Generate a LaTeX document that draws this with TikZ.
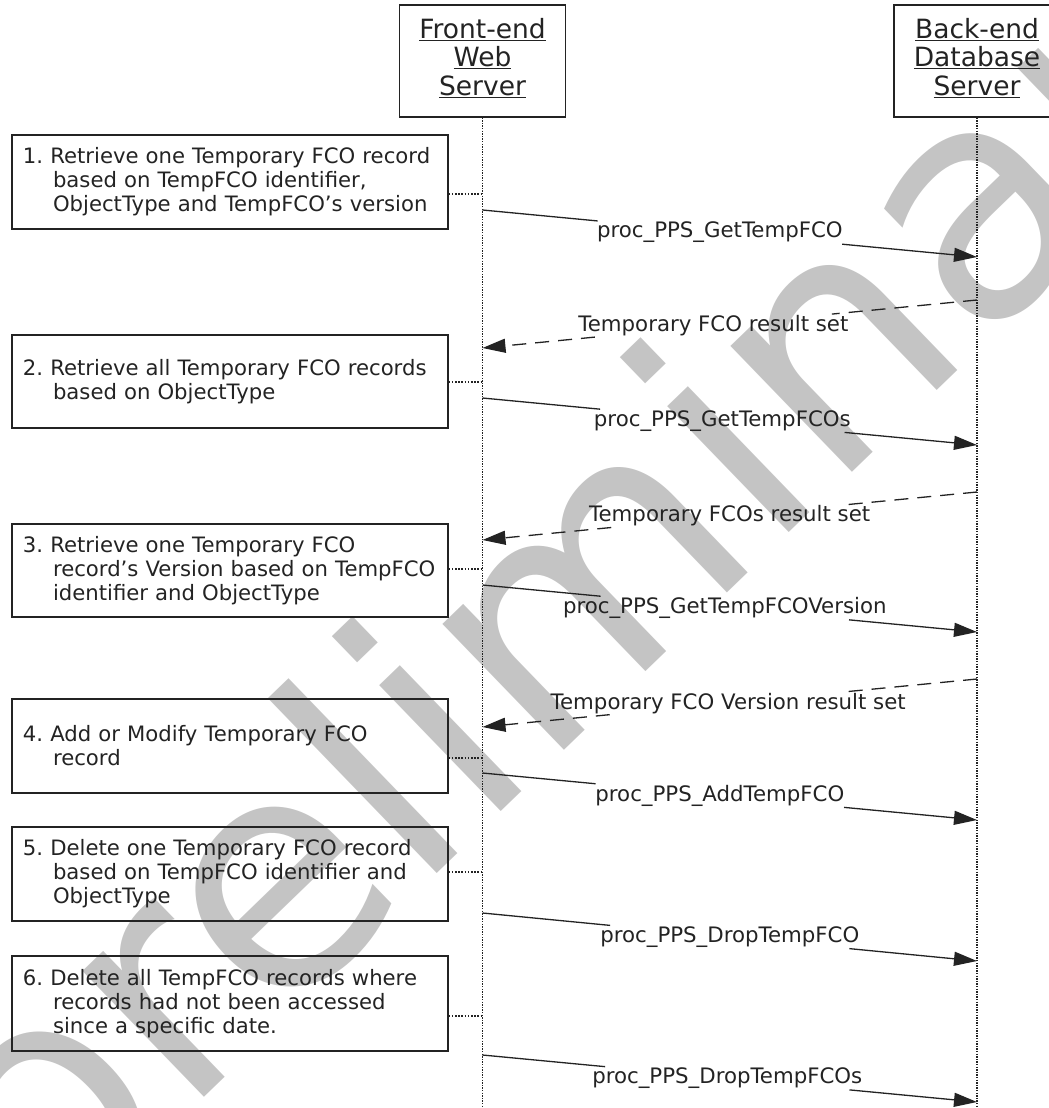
\documentclass[tikz,border=0pt]{standalone}
\usepackage{fontspec}
\setmainfont{DejaVu Sans}
\newfontfamily\wmfont{DejaVu Sans}
\usetikzlibrary{arrows.meta,calc}
\definecolor{wmgray}{RGB}{196,196,196}
\definecolor{ink}{RGB}{35,35,35}
\begin{document}
\begin{tikzpicture}[x=1pt,y=-1pt,
  head/.style={draw=ink, line width=1.3pt, minimum width=166pt, minimum height=112pt, inner sep=0pt},
  headtext/.style={text=ink, align=center, inner sep=0pt, font=\fontsize{26.5}{28.8}\selectfont},
  stepbox/.style={draw=ink, text=ink, line width=1.3pt, text width=414pt, inner xsep=11pt, inner ysep=0pt, minimum width=436pt, align=left, font=\fontsize{21.2}{24}\selectfont},
  life/.style={line width=1.3pt, dash pattern=on 1.3pt off 1.3pt, draw=ink},
  link/.style={line width=1.3pt, dash pattern=on 1.6pt off 1.6pt, draw=ink},
  msgline/.style={line width=1.3pt, draw=ink},
  msg/.style={msgline, -{Triangle[length=23pt,width=14pt]}},
  retline/.style={msgline, dash pattern=on 14pt off 9pt},
  ret/.style={retline, -{Triangle[length=23pt,width=14pt]}},
  lab/.style={text=ink, font=\fontsize{21.3}{24}\selectfont, inner xsep=4pt, inner ysep=1pt}
]
\useasboundingbox (0,0) rectangle (1049,1108);
\clip (0,0) rectangle (1049,1108);

% watermark
\node[rotate=44, text=wmgray, inner sep=0pt, font=\wmfont\fontsize{320}{320}\selectfont] (wm) at (632,562) {preliminary};

% lifeline heads
\node[head] (fe) at (482.5,61) {};
\node[headtext] (fet) at (482.5,58) {\underline{Front-end}\\\underline{Web}\\\underline{Server}};
\node[head] (be) at (977,61) {};
\node[headtext] (bet) at (977,58) {\underline{Back-end}\\\underline{Database}\\\underline{Server}};
\coordinate (feend) at (482.5,1108);
\coordinate (beend) at (977,1108);
\draw[life] (fe.south) -- (feend);
\draw[life] (be.south) -- (beend);

% step boxes
\node[stepbox, minimum height=94pt] (b1) at (230,182) {1.~Retrieve one Temporary FCO record\\\hspace*{30pt}based on TempFCO identifier,\\\hspace*{30pt}ObjectType and TempFCO’s version};
\node[stepbox, minimum height=93pt] (b2) at (230,381.5) {2.~Retrieve all Temporary FCO records\\\hspace*{30pt}based on ObjectType};
\node[stepbox, minimum height=93pt] (b3) at (230,570.5) {3.~Retrieve one Temporary FCO\\\hspace*{30pt}record’s Version based on TempFCO\\\hspace*{30pt}identifier and ObjectType};
\node[stepbox, minimum height=94pt] (b4) at (230,746) {4.~Add or Modify Temporary FCO\\\hspace*{30pt}record};
\node[stepbox, minimum height=94pt] (b5) at (230,874) {5.~Delete one Temporary FCO record\\\hspace*{30pt}based on TempFCO identifier and\\\hspace*{30pt}ObjectType};
\node[stepbox, minimum height=95pt] (b6) at (230,1003.5) {6.~Delete all TempFCO records where\\\hspace*{30pt}records had not been accessed\\\hspace*{30pt}since a specific date.};

% dotted links to the front-end lifeline
\coordinate (c1) at (482.5,194);
\coordinate (c2) at (482.5,382);
\coordinate (c3) at (482.5,569);
\coordinate (c4) at (482.5,758);
\coordinate (c5) at (482.5,872);
\coordinate (c6) at (482.5,1016);
\foreach \i in {1,...,6} {\draw[link] (b\i.east |- c\i) -- (c\i);}

% calls
\coordinate (m1a) at (482.5,210);  \coordinate (m1b) at (977,257);
\coordinate (m2a) at (482.5,398);  \coordinate (m2b) at (977,445);
\coordinate (m3a) at (482.5,585);  \coordinate (m3b) at (977,632);
\coordinate (m4a) at (482.5,773);  \coordinate (m4b) at (977,820);
\coordinate (m5a) at (482.5,913);  \coordinate (m5b) at (977,961);
\coordinate (m6a) at (482.5,1055); \coordinate (m6b) at (977,1102);
\node[lab] (l1) at ($(m1a)!0.48!(m1b)$) {proc\_PPS\_GetTempFCO};
\node[lab] (l2) at ($(m2a)!0.485!(m2b)$) {proc\_PPS\_GetTempFCOs};
\node[lab] (l3) at ($(m3a)!0.49!(m3b)$) {proc\_PPS\_GetTempFCOVersion};
\node[lab] (l4) at ($(m4a)!0.48!(m4b)$) {proc\_PPS\_AddTempFCO};
\node[lab] (l5) at ($(m5a)!0.5!(m5b)$) {proc\_PPS\_DropTempFCO};
\node[lab] (l6) at ($(m6a)!0.495!(m6b)$) {proc\_PPS\_DropTempFCOs};
\foreach \i in {1,...,6} {\draw[msgline] (m\i a) -- (l\i); \draw[msg] (l\i) -- (m\i b);}

% results
\coordinate (r1a) at (977,300); \coordinate (r1b) at (482.5,348);
\coordinate (r2a) at (977,492); \coordinate (r2b) at (482.5,540);
\coordinate (r3a) at (977,679); \coordinate (r3b) at (482.5,727);
\node[lab] (k1) at ($(r1a)!0.533!(r1b)$) {Temporary FCO result set};
\node[lab] (k2) at ($(r2a)!0.5!(r2b)$) {Temporary FCOs result set};
\node[lab] (k3) at ($(r3a)!0.503!(r3b)$) {Temporary FCO Version result set};
\foreach \i in {1,2,3} {\draw[retline] (r\i a) -- (k\i); \draw[ret] (k\i) -- (r\i b);}
\end{tikzpicture}
\end{document}
